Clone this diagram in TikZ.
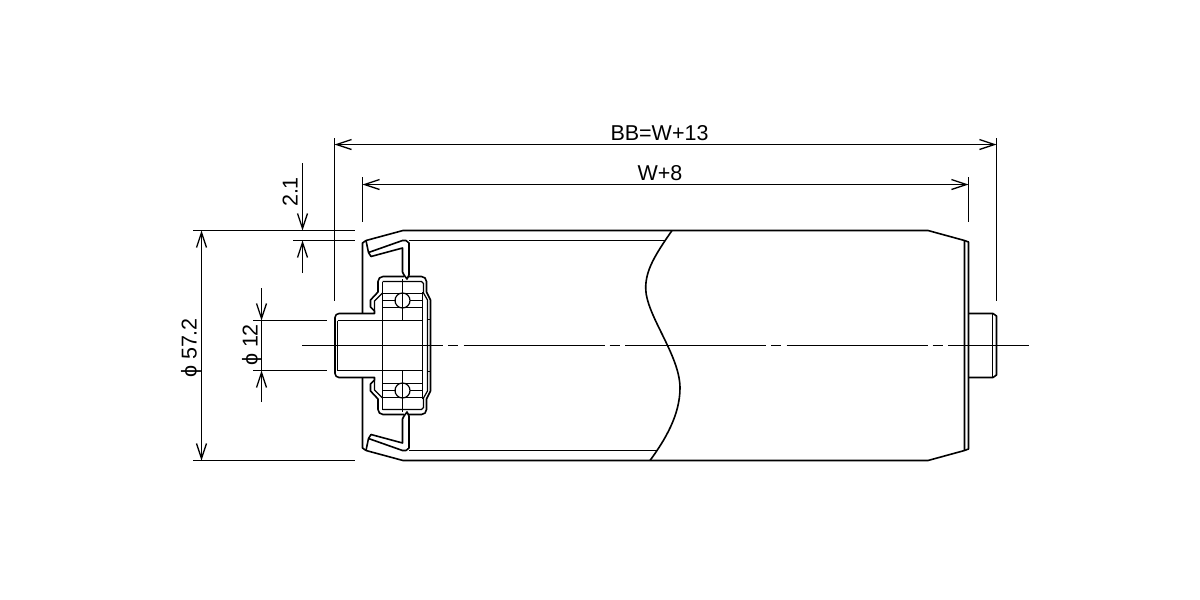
\documentclass[tikz,border=0pt]{standalone}
\usepackage{fontspec}
\setmainfont{Liberation Sans}
\usetikzlibrary{arrows.meta}
\begin{document}
\begin{tikzpicture}
  [x=1pt,y=-1pt,
   part/.style={line width=1.6pt,line join=round},
   thin part/.style={line width=1.2pt},
   dim/.style={line width=1.3pt,{Straight Barb[length=15pt,width=10pt]}-{Straight Barb[length=15pt,width=10pt]}},
   ext/.style={line width=1.3pt},
   lead/.style={line width=1.3pt,-{Straight Barb[length=15pt,width=10pt]}},
   every node/.style={font=\fontsize{21.5}{21.5}\selectfont,inner sep=0pt}]

  \useasboundingbox (0,0) rectangle (1200,600);

  % dimension ends
  \coordinate (bbL) at (334.5,144.5);
  \coordinate (bbR) at (996.5,144.5);
  \coordinate (wL) at (362.5,184.5);
  \coordinate (wR) at (968.5,184.5);
  \coordinate (dT) at (201.5,230.5);
  \coordinate (dB) at (201.5,460.5);
  \coordinate (sT) at (261.5,320.5);
  \coordinate (sB) at (261.5,370.5);
  \coordinate (sTo) at (261.5,288);
  \coordinate (sBo) at (261.5,402);
  \coordinate (tT) at (302.5,230.5);
  \coordinate (tB) at (302.5,240.5);
  \coordinate (tTo) at (302.5,163);
  \coordinate (tBo) at (302.5,273);

  \foreach \from/\to in {bbL/bbR,wL/wR,dT/dB}
    \draw [dim] (\from) -- (\to);
  \foreach \from/\to in {sTo/sT,sBo/sB,tTo/tT,tBo/tB}
    \draw [lead] (\from) -- (\to);
  \draw [ext] (sT) -- (sB);

  % extension lines
  \foreach \ax/\ay/\bx/\by in {334.5/138/334.5/301,996.5/138/996.5/301,362.5/177/362.5/222,968.5/177/968.5/222,
    193/230.5/355/230.5,293/240.5/355/240.5,193/460.5/355/460.5,253/320.5/327/320.5,253/370.5/327/370.5}
    \draw [ext] (\ax,\ay) -- (\bx,\by);

  % labels
  \node (bbLabel) at (659.5,133) {BB=W+13};
  \node (wLabel) at (660,173) {W+8};
  \node [rotate=90] (dLabel) at (191,348) {ϕ 57.2};
  \node [rotate=90] (sLabel) at (252,345) {ϕ 12};
  \node [rotate=90] (tLabel) at (290,192) {2.1};

  % roller body
  \draw [part] (366,240.5) -- (403,230.5) -- (928,230.5) -- (964.5,240.5) -- (964.5,450.5) -- (928,460.5) -- (403,460.5) -- (366,450.5);
  \draw [part] (964.5,240.5) -- (968.5,242) -- (968.5,449) -- (964.5,450.5);
  \draw [part] (409,240.5) -- (665,240.5);
  \draw [part] (409,450.5) -- (656,450.5);
  % break line
  \draw [part] (672,230.5) .. controls (655,255) and (645.7,270) .. (645.7,288)
    .. controls (645.7,315) and (680,355) .. (680,388)
    .. controls (680,415) and (665,440) .. (650,460.5);

  % right shaft
  \draw [part] (968.5,313.5) -- (993,313.5) -- (996.5,316) -- (996.5,375) -- (993,377.5) -- (968.5,377.5);
  \draw [thin part] (992.5,313.5) -- (992.5,377.5);

  % left end, lower half is the upper one mirrored about the axis
  \foreach \m/\o in {1/0,-1/691}{
    \begin{scope}[yshift=-\o,yscale=\m]
      \draw [part] (366,240.5) -- (362.5,243) -- (362.5,313.5);
      \draw [part] (366,240.5) -- (368.5,252.5) -- (371,256.5) -- (402.5,248) -- (402.5,272)
        -- (404,275) -- (407,279) -- (409,275) -- (409,243) -- (406,240.5) -- (402.5,240.5) -- (368.5,252.5);
      \draw [part] (404,276.5) -- (383,276.5) arc (270:180:5) -- (378,292) -- (370.5,300) -- (370.5,307)
        -- (374.5,311) -- (374.5,313.5) -- (339,313.5) arc (270:180:4) -- (335,345.5);
      \draw [part] (408,276.5) -- (421.5,276.5) arc (270:360:5) -- (426.5,292) -- (430.5,300) -- (430.5,345.5);
      \draw [thin part] (382.5,293) -- (374.5,301) -- (374.5,311);
      \draw [thin part] (382.5,281.5) -- (421.5,281.5) -- (423.5,283.5) -- (423.5,293) -- (427.5,300) -- (427.5,345.5);
      \draw [thin part] (382.5,281.5) -- (382.5,345.5) (422.5,293) -- (422.5,345.5);
      \draw [thin part] (337.5,320.5) -- (422.5,320.5) (337.5,320.5) -- (337.5,345.5);
      \draw [thin part] (427.5,319.5) -- (431,319.5);
      \draw [thin part] (382.5,293.5) -- (422.5,293.5) (382.5,307.5) -- (422.5,307.5) (382.5,300.5) -- (396,300.5) (410,300.5) -- (422.5,300.5);
      \draw [line width=1.7pt] (382.5,292) -- (382.5,309) (422.5,292) -- (422.5,309);
      \draw [thin part] (402.5,300.5) circle (7.5);
      \draw [thin part] (402.5,279) -- (402.5,320.5);
    \end{scope}
  }

  % centre line
  \draw [ext,dash pattern=on 141pt off 5pt on 10pt off 5.5pt] (302,345.5) -- (1029,345.5);
\end{tikzpicture}
\end{document}
